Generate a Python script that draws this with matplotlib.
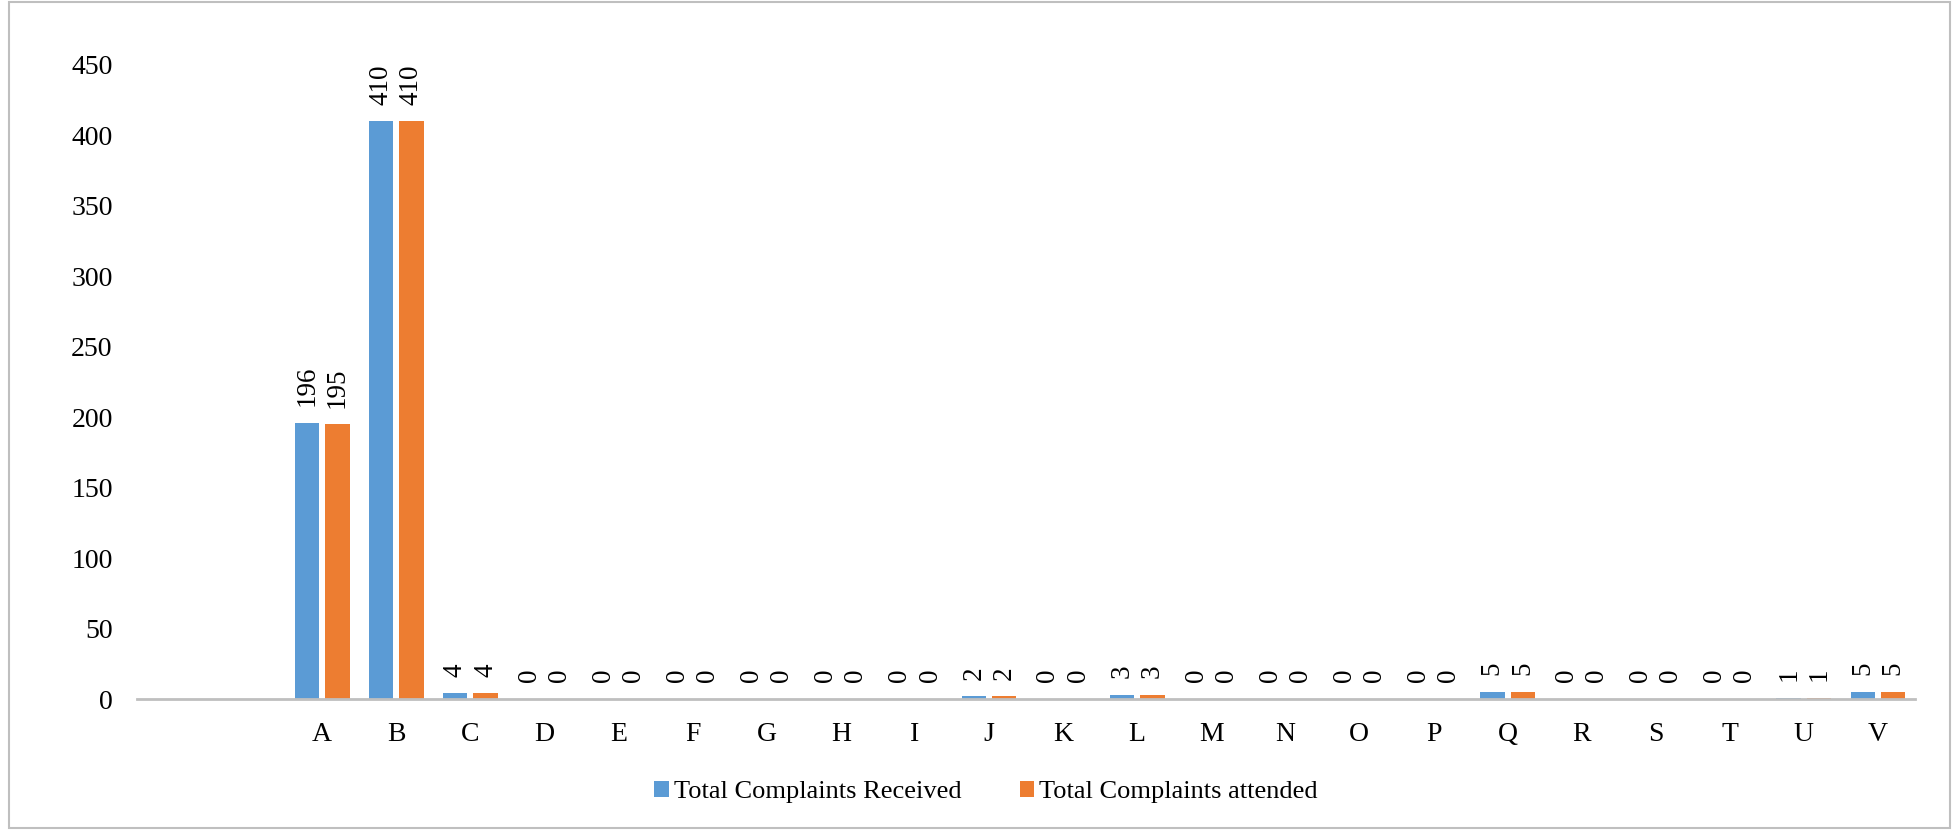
import matplotlib
matplotlib.use("Agg")
import matplotlib.pyplot as plt
from matplotlib.patches import Rectangle
import numpy as np

categories = ["", "", "A", "B", "C", "D", "E", "F", "G", "H", "I", "J", "K", "L",
              "M", "N", "O", "P", "Q", "R", "S", "T", "U", "V"]
received = [None, None, 196, 410, 4, 0, 0, 0, 0, 0, 0, 2, 0, 3, 0, 0, 0, 0, 5, 0, 0, 0, 1, 5]
attended = [None, None, 195, 410, 4, 0, 0, 0, 0, 0, 0, 2, 0, 3, 0, 0, 0, 0, 5, 0, 0, 0, 1, 5]
series_names = ["Total Complaints Received", "Total Complaints attended"]
colors = ["#5B9BD5", "#ED7D31"]
yticks = [0, 50, 100, 150, 200, 250, 300, 350, 400, 450]

plt.rcParams['font.family'] = ['Liberation Serif', 'DejaVu Serif']

W, H = 1954, 830
fig = plt.figure(figsize=(W / 100, H / 100), dpi=100)
ax = fig.add_axes([137 / W, 1 - 699 / H, (1915 - 137) / W, (699 - 65) / H])

x = np.arange(len(categories))
bw = 0.33
gap = 0.08
off = bw / 2 + gap / 2
for vals, sign, col, name in [(received, -1, colors[0], series_names[0]),
                              (attended, 1, colors[1], series_names[1])]:
    xs = [xi + sign * off for xi, v in zip(x, vals) if v is not None]
    vs = [v for v in vals if v is not None]
    bars = ax.bar(xs, vs, width=bw, color=col, label=name, zorder=2)
    for b, v in zip(bars, vs):
        ax.annotate(str(v), (b.get_x() + b.get_width() / 2, v),
                    xytext=(0, 12), textcoords="offset points",
                    rotation=90, ha="center", va="bottom", fontsize=19.5,
                    color="#000000")

ax.set_xlim(-0.5, len(categories) - 0.5)
ax.set_ylim(0, 450)
ax.set_yticks(yticks)
ax.set_xticks(x)
ax.set_xticklabels(categories)
ax.tick_params(axis="both", length=0, labelsize=20, colors="#000000")
ax.tick_params(axis="x", pad=16.5)
ax.tick_params(axis="y", pad=17.5)
for s in ["top", "right", "left"]:
    ax.spines[s].set_visible(False)
ax.spines["bottom"].set_color("#BFBFBF")
ax.spines["bottom"].set_linewidth(2)
ax.spines["bottom"].set_zorder(3)

fig.legend(loc="center", bbox_to_anchor=(986 / W, 1 - 792 / H), ncol=2,
           frameon=False, fontsize=19, handlelength=0.55, handleheight=0.55,
           handletextpad=0.2, columnspacing=2.2)

fig.patches.append(Rectangle((9 / W, 2 / H), (1950 - 9) / W, (828 - 2) / H,
                             transform=fig.transFigure, fill=False,
                             edgecolor="#BFBFBF", linewidth=1.5))

fig.savefig("out.png", dpi=100)
